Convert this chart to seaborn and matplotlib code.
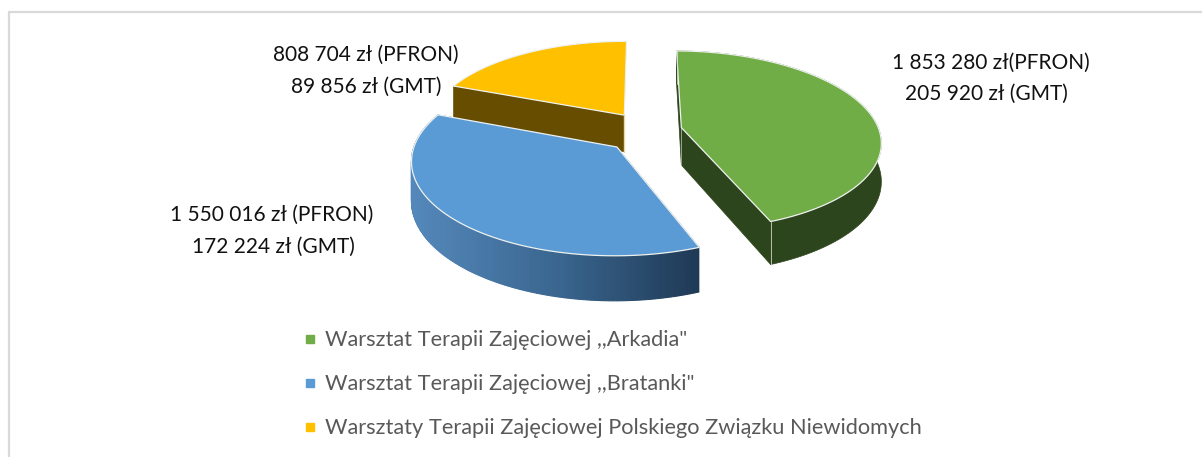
import numpy as np
import matplotlib
matplotlib.use("Agg")
import matplotlib.pyplot as plt
from matplotlib.lines import Line2D
import seaborn as sns

# ========= DATA =========
workshops = [
    'Warsztat Terapii Zajęciowej ,,Arkadia"',
    'Warsztat Terapii Zajęciowej ,,Bratanki"',
    "Warsztaty Terapii Zajęciowej Polskiego Związku Niewidomych",
]
pfron = [1853280, 1550016, 808704]
gmt = [205920, 172224, 89856]
pfron_labels = ["1 853 280 zł(PFRON)", "1 550 016 zł (PFRON)", "808 704 zł (PFRON)"]
gmt_labels = ["205 920 zł (GMT)", "172 224 zł (GMT)", "89 856 zł (GMT)"]

# ========= STYLE =========
top_colors = ["#70ad47", "#5b9bd5", "#ffc000"]
side_colors = ["#2d451c", "#4f81b5", "#664d00"]
pfron_xy = [(991, 63), (272, 215), (366, 55)]
gmt_xy = [(986, 94), (273, 247), (366, 87)]
explode = [(0.31, 0.215), (-0.015, 0.0), (0.02, 0.36)]  # wedge shift, in pie radii

cx, cy = 620, 147
rx, ry = 203, 93
persp = 0.145
shear = 1.5
depth = 38.5
start_angle = 0.5

sns.set_theme(style="white")
plt.rcParams["font.family"] = ["Lato", "DejaVu Sans"]


def project(x, y, z=0.0):
    den = 1 + persp * y
    return cx + (rx * x + shear * y) / den, cy + (-ry * y + depth * z) / den


# ========= WEDGES =========
fig = plt.figure(figsize=(12.02, 4.57), dpi=100)
ax = fig.add_axes([0, 0, 1, 1])
ax.set_xlim(0, 1202)
ax.set_ylim(457, 0)
ax.axis("off")

# chart frame
ax.plot([9, 9, 1202], [457, 12, 12], color="#d9d9d9", lw=1.6, solid_joinstyle="miter")

fractions = np.array(pfron) / np.sum(pfron)
ends = start_angle + np.cumsum(fractions) * 360
starts = ends - fractions * 360
blues = sns.blend_palette(["#5488ba", "#3a6690", "#1f3a56"], 100)

for i in [2, 0, 1]:
    ex, ey = explode[i]
    th = np.radians(np.linspace(starts[i], ends[i], 200))
    xs, ys = ex + np.sin(th), ey + np.cos(th)

    tx, ty = project(xs, ys)
    bx, by = project(xs, ys, 1)
    ax_top, ay_top = project(ex, ey)
    ax_bot, ay_bot = project(ex, ey, 1)

    # cut faces
    for j in [0, -1]:
        if i == 2 and j == -1:
            continue
        ax.fill([ax_top, tx[j], bx[j], ax_bot], [ay_top, ty[j], by[j], ay_bot],
                color=side_colors[i] if i != 1 else "#2f5579", lw=0.5)

    # rim (the yellow one faces away from the viewer)
    if i == 1:
        for k in range(len(th) - 1):
            t = np.clip((tx[k] - 413) / (697 - 413), 0, 1)
            c = blues[int(t * 99)]
            ax.fill([tx[k], tx[k + 1], bx[k + 1], bx[k]],
                    [ty[k], ty[k + 1], by[k + 1], by[k]],
                    facecolor=c, edgecolor=c, lw=0.8)
    elif i == 0:
        ax.fill(np.r_[tx, bx[::-1]], np.r_[ty, by[::-1]], color=side_colors[i], lw=0.5)

    # light corner edges
    for j in [0, -1]:
        if i == 0 or (i == 1 and j == 0):
            ax.plot([tx[j], bx[j]], [ty[j], by[j]], color="#d9dfd5", lw=0.7, alpha=0.8)
    if i == 0:
        ax.plot([ax_top, ax_bot], [ay_top, ay_bot], color="#d9dfd5", lw=0.6, alpha=0.7)
    if i == 2:
        ax.plot([ax_top, ax_bot], [ay_top, ay_bot], color="#e8d9a0", lw=1.0)

    # top face
    ax.fill(np.r_[ax_top, tx], np.r_[ay_top, ty], facecolor=top_colors[i],
            edgecolor="#eef1ee", lw=0.9, joinstyle="round")

# ========= LABELS =========
for i in range(3):
    ax.text(*pfron_xy[i], pfron_labels[i], ha="center", va="center", fontsize=15, color="#111111")
    ax.text(*gmt_xy[i], gmt_labels[i], ha="center", va="center", fontsize=15, color="#111111")

handles = [Line2D([], [], ls="", marker="s", ms=5.8, color=c) for c in top_colors]
ax.legend(handles, workshops, loc="upper left", bbox_to_anchor=(299 / 1202, 1 - 330.5 / 457),
          frameon=False, fontsize=15.65, labelcolor="#595959", labelspacing=1.1,
          handletextpad=0.21, handlelength=1.0, borderpad=0, borderaxespad=0)

fig.savefig("out.png", dpi=100)
